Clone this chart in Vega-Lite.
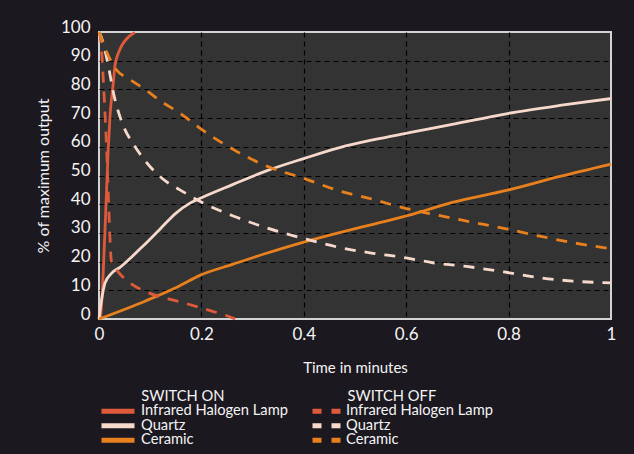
{
  "$schema": "https://vega.github.io/schema/vega-lite/v6.json",
  "width": 512,
  "height": 287,
  "autosize": "none",
  "padding": {"left": 99, "top": 32, "right": 23, "bottom": 135},
  "background": "#1b1820",
  "config": {
    "font": "Lato",
    "view": {"fill": "#333333", "stroke": "#d4d4d4", "strokeWidth": 2},
    "axis": {
      "labelFont": "Lato", "titleFont": "Lato",
      "labelColor": "#f4f4f4", "titleColor": "#f4f4f4",
      "domain": false, "ticks": false, "labelFlush": false,
      "gridColor": "#000000", "gridDash": [5, 4], "gridWidth": 1.2,
      "labelFontSize": 17, "titleFontSize": 15, "titleFontWeight": "normal"
    },
    "legend": {
      "labelFont": "Lato", "titleFont": "Lato",
      "labelColor": "#f4f4f4", "titleColor": "#f4f4f4",
      "labelFontSize": 14.7, "titleFontSize": 14.7, "titleFontWeight": "normal",
      "padding": 0, "rowPadding": -1.5, "titlePadding": 1, "clipHeight": 13,
      "symbolType": "M-1,0H5", "symbolSize": 121, "symbolStrokeWidth": 5
    }
  },
  "data": {
    "values": [
      {"mode": "on", "material": "Infrared Halogen Lamp", "t": 0, "v": 0},
      {"mode": "on", "material": "Infrared Halogen Lamp", "t": 0.003, "v": 1},
      {"mode": "on", "material": "Infrared Halogen Lamp", "t": 0.0115, "v": 30},
      {"mode": "on", "material": "Infrared Halogen Lamp", "t": 0.018, "v": 59},
      {"mode": "on", "material": "Infrared Halogen Lamp", "t": 0.0215, "v": 70.7},
      {"mode": "on", "material": "Infrared Halogen Lamp", "t": 0.028, "v": 82.4},
      {"mode": "on", "material": "Infrared Halogen Lamp", "t": 0.031, "v": 88},
      {"mode": "on", "material": "Infrared Halogen Lamp", "t": 0.041, "v": 94},
      {"mode": "on", "material": "Infrared Halogen Lamp", "t": 0.051, "v": 97},
      {"mode": "on", "material": "Infrared Halogen Lamp", "t": 0.07, "v": 99.8},
      {"mode": "on", "material": "Quartz", "t": 0, "v": 0},
      {"mode": "on", "material": "Quartz", "t": 0.005, "v": 6.6},
      {"mode": "on", "material": "Quartz", "t": 0.0117, "v": 12.5},
      {"mode": "on", "material": "Quartz", "t": 0.0248, "v": 16},
      {"mode": "on", "material": "Quartz", "t": 0.041, "v": 18},
      {"mode": "on", "material": "Quartz", "t": 0.06, "v": 21},
      {"mode": "on", "material": "Quartz", "t": 0.086, "v": 25.4},
      {"mode": "on", "material": "Quartz", "t": 0.119, "v": 31.3},
      {"mode": "on", "material": "Quartz", "t": 0.151, "v": 37},
      {"mode": "on", "material": "Quartz", "t": 0.177, "v": 40.3},
      {"mode": "on", "material": "Quartz", "t": 0.197, "v": 42},
      {"mode": "on", "material": "Quartz", "t": 0.262, "v": 46.9},
      {"mode": "on", "material": "Quartz", "t": 0.327, "v": 51.6},
      {"mode": "on", "material": "Quartz", "t": 0.4, "v": 55.9},
      {"mode": "on", "material": "Quartz", "t": 0.47, "v": 59.7},
      {"mode": "on", "material": "Quartz", "t": 0.535, "v": 62.4},
      {"mode": "on", "material": "Quartz", "t": 0.606, "v": 64.9},
      {"mode": "on", "material": "Quartz", "t": 0.69, "v": 67.8},
      {"mode": "on", "material": "Quartz", "t": 0.798, "v": 71.6},
      {"mode": "on", "material": "Quartz", "t": 0.9, "v": 74.4},
      {"mode": "on", "material": "Quartz", "t": 1, "v": 76.8},
      {"mode": "on", "material": "Ceramic", "t": 0, "v": 0},
      {"mode": "on", "material": "Ceramic", "t": 0.091, "v": 6.3},
      {"mode": "on", "material": "Ceramic", "t": 0.157, "v": 11.5},
      {"mode": "on", "material": "Ceramic", "t": 0.197, "v": 15.2},
      {"mode": "on", "material": "Ceramic", "t": 0.262, "v": 19.1},
      {"mode": "on", "material": "Ceramic", "t": 0.327, "v": 22.9},
      {"mode": "on", "material": "Ceramic", "t": 0.4, "v": 26.8},
      {"mode": "on", "material": "Ceramic", "t": 0.47, "v": 30.1},
      {"mode": "on", "material": "Ceramic", "t": 0.535, "v": 33},
      {"mode": "on", "material": "Ceramic", "t": 0.606, "v": 36.2},
      {"mode": "on", "material": "Ceramic", "t": 0.69, "v": 40.6},
      {"mode": "on", "material": "Ceramic", "t": 0.798, "v": 44.9},
      {"mode": "on", "material": "Ceramic", "t": 0.898, "v": 49.6},
      {"mode": "on", "material": "Ceramic", "t": 1, "v": 54},
      {"mode": "off", "material": "Infrared Halogen Lamp", "t": 0, "v": 100},
      {"mode": "off", "material": "Infrared Halogen Lamp", "t": 0.002, "v": 99},
      {"mode": "off", "material": "Infrared Halogen Lamp", "t": 0.0053, "v": 93},
      {"mode": "off", "material": "Infrared Halogen Lamp", "t": 0.0088, "v": 82},
      {"mode": "off", "material": "Infrared Halogen Lamp", "t": 0.0127, "v": 68},
      {"mode": "off", "material": "Infrared Halogen Lamp", "t": 0.0152, "v": 58},
      {"mode": "off", "material": "Infrared Halogen Lamp", "t": 0.018, "v": 44},
      {"mode": "off", "material": "Infrared Halogen Lamp", "t": 0.0205, "v": 32},
      {"mode": "off", "material": "Infrared Halogen Lamp", "t": 0.0228, "v": 23},
      {"mode": "off", "material": "Infrared Halogen Lamp", "t": 0.0248, "v": 19.5},
      {"mode": "off", "material": "Infrared Halogen Lamp", "t": 0.0345, "v": 17},
      {"mode": "off", "material": "Infrared Halogen Lamp", "t": 0.061, "v": 12.5},
      {"mode": "off", "material": "Infrared Halogen Lamp", "t": 0.093, "v": 9.4},
      {"mode": "off", "material": "Infrared Halogen Lamp", "t": 0.158, "v": 6},
      {"mode": "off", "material": "Infrared Halogen Lamp", "t": 0.197, "v": 4},
      {"mode": "off", "material": "Infrared Halogen Lamp", "t": 0.256, "v": 0.7},
      {"mode": "off", "material": "Infrared Halogen Lamp", "t": 0.266, "v": 0},
      {"mode": "off", "material": "Quartz", "t": 0, "v": 100},
      {"mode": "off", "material": "Quartz", "t": 0.005, "v": 98},
      {"mode": "off", "material": "Quartz", "t": 0.015, "v": 91},
      {"mode": "off", "material": "Quartz", "t": 0.031, "v": 76.6},
      {"mode": "off", "material": "Quartz", "t": 0.047, "v": 67.5},
      {"mode": "off", "material": "Quartz", "t": 0.067, "v": 61},
      {"mode": "off", "material": "Quartz", "t": 0.093, "v": 54.5},
      {"mode": "off", "material": "Quartz", "t": 0.126, "v": 48.6},
      {"mode": "off", "material": "Quartz", "t": 0.158, "v": 45},
      {"mode": "off", "material": "Quartz", "t": 0.197, "v": 41},
      {"mode": "off", "material": "Quartz", "t": 0.262, "v": 35.9},
      {"mode": "off", "material": "Quartz", "t": 0.327, "v": 31.8},
      {"mode": "off", "material": "Quartz", "t": 0.405, "v": 27.8},
      {"mode": "off", "material": "Quartz", "t": 0.47, "v": 24.9},
      {"mode": "off", "material": "Quartz", "t": 0.535, "v": 22.9},
      {"mode": "off", "material": "Quartz", "t": 0.593, "v": 21.5},
      {"mode": "off", "material": "Quartz", "t": 0.652, "v": 19.6},
      {"mode": "off", "material": "Quartz", "t": 0.718, "v": 18.3},
      {"mode": "off", "material": "Quartz", "t": 0.798, "v": 16.2},
      {"mode": "off", "material": "Quartz", "t": 0.86, "v": 14.4},
      {"mode": "off", "material": "Quartz", "t": 0.925, "v": 13.2},
      {"mode": "off", "material": "Quartz", "t": 1, "v": 12.6},
      {"mode": "off", "material": "Ceramic", "t": 0, "v": 100},
      {"mode": "off", "material": "Ceramic", "t": 0.015, "v": 93},
      {"mode": "off", "material": "Ceramic", "t": 0.031, "v": 87.5},
      {"mode": "off", "material": "Ceramic", "t": 0.06, "v": 83.5},
      {"mode": "off", "material": "Ceramic", "t": 0.09, "v": 80},
      {"mode": "off", "material": "Ceramic", "t": 0.12, "v": 76},
      {"mode": "off", "material": "Ceramic", "t": 0.16, "v": 71.5},
      {"mode": "off", "material": "Ceramic", "t": 0.197, "v": 66.5},
      {"mode": "off", "material": "Ceramic", "t": 0.262, "v": 59.1},
      {"mode": "off", "material": "Ceramic", "t": 0.327, "v": 53.3},
      {"mode": "off", "material": "Ceramic", "t": 0.4, "v": 49},
      {"mode": "off", "material": "Ceramic", "t": 0.47, "v": 44.6},
      {"mode": "off", "material": "Ceramic", "t": 0.535, "v": 41.7},
      {"mode": "off", "material": "Ceramic", "t": 0.593, "v": 38.8},
      {"mode": "off", "material": "Ceramic", "t": 0.652, "v": 36.5},
      {"mode": "off", "material": "Ceramic", "t": 0.718, "v": 34.1},
      {"mode": "off", "material": "Ceramic", "t": 0.798, "v": 31.3},
      {"mode": "off", "material": "Ceramic", "t": 0.86, "v": 28.9},
      {"mode": "off", "material": "Ceramic", "t": 0.925, "v": 26.6},
      {"mode": "off", "material": "Ceramic", "t": 1, "v": 24.5}
    ]
  },
  "encoding": {
    "x": {
      "field": "t", "type": "quantitative",
      "scale": {"domain": [0, 1], "nice": false},
      "axis": {
        "title": "Time in minutes",
        "values": [0, 0.2, 0.4, 0.6, 0.8, 1],
        "format": "~g",
        "labelPadding": 7,
        "titlePadding": 18,
        "gridOpacity": {"condition": {"test": "datum.value <= 0 || datum.value >= 1", "value": 0}, "value": 1}
      }
    },
    "y": {
      "field": "v", "type": "quantitative",
      "scale": {"domain": [0, 100], "nice": false},
      "axis": {
        "title": "% of maximum output",
        "titleFontSize": 16,
        "values": [0, 10, 20, 30, 40, 50, 60, 70, 80, 90, 100],
        "labelPadding": 9,
        "labelOffset": -5,
        "titlePadding": 9,
        "gridOpacity": {"condition": {"test": "datum.value <= 0 || datum.value >= 100", "value": 0}, "value": 1}
      }
    }
  },
  "layer": [
    {
      "transform": [{"filter": "datum.mode == 'on'"}],
      "mark": {"type": "line", "strokeWidth": 2.8, "interpolate": "monotone"},
      "encoding": {
        "color": {
          "field": "material", "type": "nominal",
          "scale": {"domain": ["Infrared Halogen Lamp", "Quartz", "Ceramic"], "range": ["#de5a3b", "#f7d9cc", "#e8801e"]},
          "legend": {
            "title": "\u200b\u00a0\u00a0\u00a0\u00a0\u00a0\u00a0\u00a0\u00a0\u00a0\u00a0\u00a0\u200aSWITCH ON",
            "orient": "none", "legendX": 0, "legendY": 357,
            "labelOffset": 26
          }
        }
      }
    },
    {
      "transform": [{"filter": "datum.mode == 'off'"}],
      "mark": {"type": "line", "strokeWidth": 2.8, "strokeDash": [11, 9], "interpolate": "monotone"},
      "encoding": {
        "color": {
          "field": "material", "type": "nominal",
          "scale": {"domain": ["Infrared Halogen Lamp", "Quartz", "Ceramic"], "range": ["#de5a3b", "#f7d9cc", "#e8801e"]},
          "legend": {
            "title": "\u200b\u00a0\u00a0\u00a0\u00a0\u00a0\u00a0\u00a0\u00a0\u00a0\u00a0SWITCH OFF",
            "orient": "none", "legendX": 211, "legendY": 357,
            "symbolDash": [9, 10], "labelOffset": 20
          }
        }
      }
    }
  ],
  "resolve": {"scale": {"color": "independent"}, "legend": {"color": "independent"}}
}
